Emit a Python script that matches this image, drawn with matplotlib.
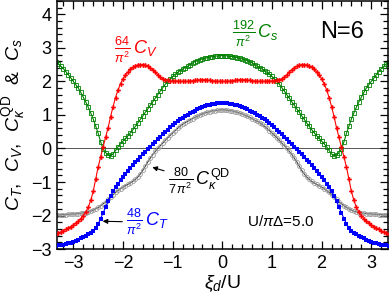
import numpy as np
import matplotlib
matplotlib.use("Agg")
from matplotlib import pyplot as plt
from matplotlib.ticker import MultipleLocator

plt.rcParams['font.family'] = ['Liberation Sans', 'DejaVu Sans']
plt.rcParams['mathtext.fontset'] = 'custom'
plt.rcParams['mathtext.rm'] = 'Liberation Sans'
plt.rcParams['mathtext.it'] = 'Liberation Sans:italic'
plt.rcParams['mathtext.bf'] = 'Liberation Sans:bold'

# xi_d/U >= 0 half (curves are symmetric in xi_d), step 0.05
xi_half = np.round(np.arange(0, 3.351, 0.05), 2)

cv_half = [2.00, 2.00, 2.00, 2.01, 2.02, 2.03, 2.04, 2.05, 2.05, 2.05,
           2.04, 2.03, 2.02, 2.01, 2.00, 2.00, 2.00, 2.00, 2.01, 2.01,
           2.01, 2.02, 2.03, 2.05, 2.08, 2.13, 2.20, 2.28, 2.35, 2.41,
           2.45, 2.48, 2.50, 2.50, 2.49, 2.46, 2.42, 2.36, 2.28, 2.19,
           2.08, 1.93, 1.75, 1.52, 1.25, 0.95, 0.62, 0.33, 0.05, -0.25,
           -0.55, -0.92, -1.28, -1.55, -1.75, -1.89, -2.00, -2.09, -2.16, -2.22,
           -2.28, -2.33, -2.37, -2.41, -2.45, -2.49, -2.52, -2.55]

ct_half = [1.36, 1.36, 1.35, 1.34, 1.33, 1.31, 1.29, 1.27, 1.24, 1.21,
           1.17, 1.13, 1.09, 1.05, 1.01, 0.97, 0.92, 0.87, 0.82, 0.76,
           0.70, 0.63, 0.56, 0.49, 0.42, 0.35, 0.27, 0.20, 0.12, 0.05,
           -0.02, -0.10, -0.17, -0.25, -0.33, -0.41, -0.50, -0.59, -0.68, -0.77,
           -0.86, -0.95, -1.05, -1.16, -1.28, -1.42, -1.58, -1.75, -1.92, -2.09,
           -2.25, -2.38, -2.47, -2.52, -2.56, -2.60, -2.64, -2.68, -2.72, -2.75,
           -2.78, -2.81, -2.83, -2.85, -2.87, -2.88, -2.89, -2.90]

ck_half = [1.15, 1.15, 1.14, 1.13, 1.12, 1.10, 1.08, 1.06, 1.03, 1.00,
           0.96, 0.93, 0.89, 0.85, 0.81, 0.77, 0.72, 0.66, 0.60, 0.53,
           0.46, 0.39, 0.32, 0.24, 0.16, 0.08, 0.00, -0.09, -0.18, -0.29,
           -0.40, -0.53, -0.65, -0.76, -0.85, -0.92, -0.98, -1.03, -1.07, -1.11,
           -1.15, -1.20, -1.25, -1.31, -1.38, -1.45, -1.52, -1.59, -1.65, -1.71,
           -1.76, -1.80, -1.84, -1.87, -1.89, -1.91, -1.92, -1.93, -1.94, -1.95,
           -1.95, -1.96, -1.96, -1.97, -1.97, -1.98, -1.98, -1.98]

cs_half = [2.77, 2.77, 2.76, 2.75, 2.74, 2.73, 2.71, 2.69, 2.67, 2.65,
           2.62, 2.59, 2.55, 2.50, 2.45, 2.41, 2.37, 2.32, 2.27, 2.21,
           2.15, 2.08, 2.00, 1.91, 1.81, 1.71, 1.60, 1.50, 1.39, 1.29,
           1.18, 1.08, 0.97, 0.87, 0.76, 0.66, 0.56, 0.47, 0.38, 0.30,
           0.22, 0.14, 0.05, -0.06, -0.16, -0.22, -0.20, -0.12, -0.02, 0.20,
           0.45, 0.67, 0.88, 1.06, 1.23, 1.39, 1.53, 1.67, 1.80, 1.90,
           2.00, 2.10, 2.20, 2.29, 2.38, 2.45, 2.52, 2.58]


def mirror(half):
    half = np.asarray(half)
    return np.concatenate([half[:0:-1], half])


xi = np.concatenate([-xi_half[:0:-1], xi_half])
cv = mirror(cv_half)
ct = mirror(ct_half)
ck = mirror(ck_half)
cs = mirror(cs_half)

fig = plt.figure(figsize=(3.9, 3.06), dpi=100)
ax = fig.add_axes([0.146, 0.186, 0.848, 0.811])

ax.axhline(0, color='#555555', lw=0.7, zorder=1)

ax.plot(xi, cs, color='green', lw=0.8, marker='s', ms=2.6, mfc='none',
        mew=0.6, zorder=2)
ax.plot(xi, ck, color='#444444', lw=0.8, marker='o', ms=2.8, mfc='none',
        mec='#999999', mew=0.6, zorder=2)
ax.plot(xi, ct, color='blue', lw=0.8, marker='s', ms=2.8, mew=0, zorder=3)
ax.plot(xi, cv, color='red', lw=0.8, marker='P', ms=3.4, mew=0, zorder=4)

ax.set_xlim(-3.33, 3.33)
ax.set_ylim(-3, 4.4)
ax.xaxis.set_major_locator(MultipleLocator(1))
ax.xaxis.set_minor_locator(MultipleLocator(0.2))
ax.yaxis.set_major_locator(MultipleLocator(1))
ax.yaxis.set_minor_locator(MultipleLocator(0.2))
ax.tick_params(which='both', direction='in', top=True, right=True,
               labelsize=13, width=0.9)
ax.tick_params(which='major', length=6, pad=4)
ax.tick_params(which='minor', length=3.5)
for s in ax.spines.values():
    s.set_linewidth(1.1)

ax.set_xlabel(r'$\xi_d$/U', fontsize=14, labelpad=1)
ax.set_ylabel(r'$C_T$,  $C_V$,  $C_\kappa^{\rm QD}$  &  $C_s$', fontsize=14,
              labelpad=2)

ax.text(-1.75, 2.95, r'$\frac{64}{\pi^2}\,C_V$', color='red', fontsize=13,
        ha='center', va='center')
ax.text(0.66, 3.4, r'$\frac{192}{\pi^2}\,C_s$', color='green', fontsize=13,
        ha='center', va='center')
ax.text(2.42, 3.48, 'N=6', fontsize=17, ha='center', va='center')
ax.text(1.17, -2.17, r'U/$\pi\Delta$=5.0', fontsize=11, ha='center',
        va='center')

ax.annotate(r'$\frac{80}{7\,\pi^2}\,C_\kappa^{\rm QD}$', xy=(-1.41, -0.56),
            xytext=(-1.09, -0.98), fontsize=13, ha='left', va='center',
            arrowprops=dict(arrowstyle='-|>', color='k', lw=0.8,
                            mutation_scale=7, shrinkA=1, shrinkB=0))
ax.annotate(r'$\frac{48}{\pi^2}\,C_T$', xy=(-2.41, -2.17),
            xytext=(-1.93, -2.2), fontsize=13, color='blue', ha='left',
            va='center',
            arrowprops=dict(arrowstyle='-|>', color='k', lw=0.8,
                            mutation_scale=7, shrinkA=1, shrinkB=0))

fig.savefig('out.png', dpi=100)
